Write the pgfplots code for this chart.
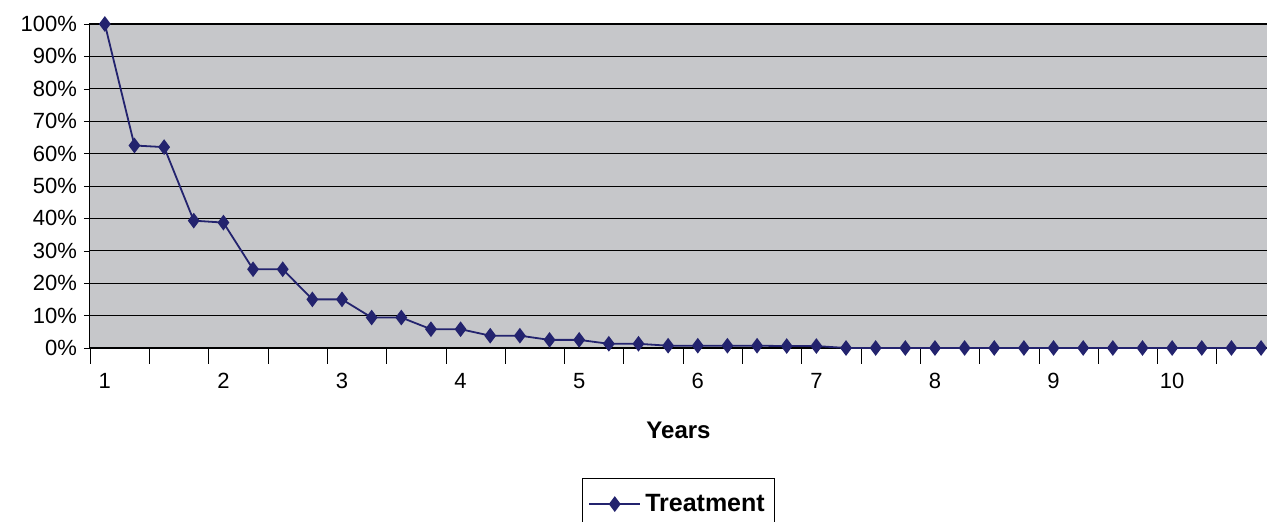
\documentclass[border=0pt]{standalone}
\usepackage{pgfplots}
\pgfplotsset{compat=1.18}
\usepackage{fontspec}
\setmainfont{Liberation Sans}
\definecolor{bg}{HTML}{C6C7CA}
\definecolor{navy}{HTML}{23236E}
\begin{document}
\begin{tikzpicture}
\begin{axis}[name=ax,
  scale only axis, width=588.5pt, height=162pt,
  xmin=0.875, xmax=10.8, ymin=0, ymax=100,
  axis background/.style={fill=bg},
  axis line style={black, line width=0.5pt},
  xtick={1,...,10}, xtick pos=bottom, ytick pos=left,
  minor xtick={0.875,1.375,...,10.875},
  minor x tick style={black}, minor tick length=8pt,
  major x tick style={draw=none},
  ytick={0,10,...,100}, yticklabel={\pgfmathprintnumber{\tick}\%},
  ymajorgrids, grid style={black, line width=0.4pt},
  major y tick style={black}, tick align=outside, major tick length=3pt,
  ticklabel style={font=\fontsize{11}{13}\selectfont},
  /pgf/number format/assume math mode=true,
  xticklabel style={yshift=-6pt},
  xlabel={\textbf{Years}}, xlabel style={font=\fontsize{12}{14}\selectfont, yshift=-10pt},
  legend style={at={(0.5,-0.4)}, anchor=north, draw=black, fill=white, font=\fontsize{12.5}{14}\bfseries, inner ysep=6pt},
  legend image code/.code={\draw[#1] (0cm,0cm) -- (0.9cm,0cm); \path[#1,mark repeat=1] plot coordinates {(0.45cm,0cm)};},
  clip=false,
]
\addplot[navy, line width=0.9pt, mark=diamond*, mark size=3.2pt, mark options={fill=navy}] coordinates {
(1,100)(1.25,62.5)(1.5,62)(1.75,39.3)(2,38.7)(2.25,24.3)(2.5,24.3)(2.75,15)(3,15)
(3.25,9.4)(3.5,9.4)(3.75,5.8)(4,5.8)(4.25,3.8)(4.5,3.8)(4.75,2.5)(5,2.5)
(5.25,1.3)(5.5,1.3)(5.75,0.7)(6,0.7)(6.25,0.7)(6.5,0.7)(6.75,0.6)(7,0.6)
(7.25,0)(7.5,0)(7.75,0)(8,0)(8.25,0)(8.5,0)(8.75,0)(9,0)(9.25,0)(9.5,0)(9.75,0)(10,0)(10.25,0)(10.5,0)(10.75,0)};
\legend{Treatment}
\end{axis}
\pgfresetboundingbox
\path[use as bounding box] ([xshift=-45pt,yshift=-87pt]ax.south west) rectangle ([yshift=12pt]ax.north east);
\end{tikzpicture}
\end{document}
